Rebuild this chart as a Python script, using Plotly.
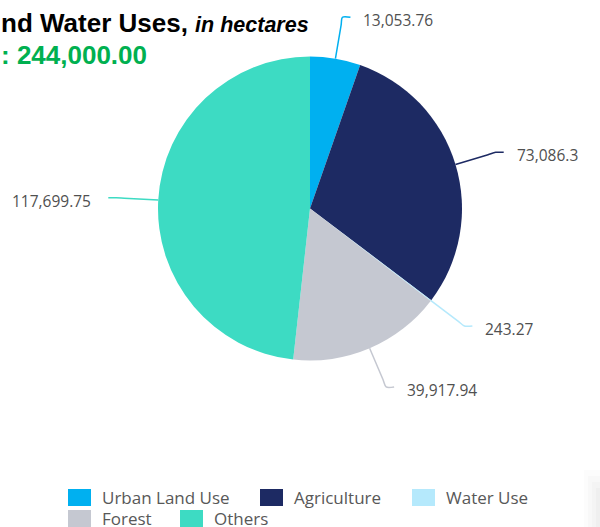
import math
import plotly.graph_objects as go

# ---- data ----
categories = ["Urban Land Use", "Agriculture", "Water Use", "Forest", "Others"]
values = [13053.76, 73086.3, 243.27, 39917.94, 117699.75]
colors = ["#00b0f0", "#1d2a63", "#b5e9fc", "#c5c8d1", "#3ddbc3"]
title_line1 = "nd Water Uses,"
title_unit = "in hectares"
total_text = ": 244,000.00"

# ---- layout geometry (pixels) ----
W, H = 600, 527
CX, CY, R = 310, 208.5, 152
EXT = 42      # radial extension of leader lines
HSEG = 8      # horizontal leg of leader lines
# legend slots (layout only): (swatch left x, row centre y)
LEGEND_SLOTS = [(68, 497.5), (260, 497.5), (412, 497.5), (68, 518.5), (180, 518.5)]
SW_W, SW_H, TXT_GAP = 23, 17, 32

fig = go.Figure()

fig.add_trace(go.Pie(
    labels=categories, values=values, sort=False, direction="clockwise", rotation=0,
    marker=dict(colors=colors, line=dict(width=0)),
    textinfo="none", hoverinfo="label+value+percent", showlegend=False,
    domain=dict(x=[(CX - R) / W, (CX + R) / W], y=[1 - (CY + R) / H, 1 - (CY - R) / H]),
))

# leader lines + labels computed from the data angles
total = sum(values)
cum = 0.0
annotations = []
for cat, v, c in zip(categories, values, colors):
    mid = (cum + v / 2) / total * 2 * math.pi
    cum += v
    s, co = math.sin(mid), math.cos(mid)
    side = 1 if s >= 0 else -1
    p1 = (CX + R * s, CY - R * co)
    pa = (CX + (R + EXT - 8) * s, CY - (R + EXT - 8) * co)
    p2 = (CX + (R + EXT) * s, CY - (R + EXT) * co)
    p3 = (p2[0] + side * HSEG, p2[1])
    fig.add_trace(go.Scatter(
        x=[p1[0], pa[0], p2[0], p3[0]], y=[p1[1], pa[1], p2[1], p3[1]],
        mode="lines", line=dict(color=c, width=1.5, shape="spline", smoothing=0.8),
        hoverinfo="skip", showlegend=False, xaxis="x", yaxis="y",
    ))
    annotations.append(dict(
        x=p3[0] + side * (11 if side > 0 else 15), y=p3[1] + 3, xref="x", yref="y",
        text=f"{v:,}", showarrow=False, xanchor="left" if side > 0 else "right",
        yanchor="middle", font=dict(family="Open Sans", size=15.5, color="#505050"),
    ))

# legend (swatches + names)
shapes = []
for cat, c, (lx, ly) in zip(categories, colors, LEGEND_SLOTS):
    shapes.append(dict(type="rect", xref="x", yref="y", x0=lx, x1=lx + SW_W,
                       y0=ly - SW_H / 2, y1=ly + SW_H / 2, fillcolor=c, line=dict(width=0)))
    annotations.append(dict(
        x=lx + TXT_GAP, y=ly, xref="x", yref="y", xanchor="left", yanchor="middle",
        showarrow=False, text=cat,
        font=dict(family="Open Sans", size=17, color="#585858"),
    ))

annotations.append(dict(
    x=-0.002, y=1 - 23 / H, xref="paper", yref="paper", xanchor="left", yanchor="middle",
    showarrow=False,
    text=f"<b>{title_line1}</b> <span style='font-size:21.5px'><b><i>{title_unit}</i></b></span>",
    font=dict(family="Liberation Sans, Arial", size=26, color="#000000"),
))
annotations.append(dict(
    x=-0.002, y=1 - 55 / H, xref="paper", yref="paper", xanchor="left", yanchor="middle",
    showarrow=False, text=f"<b>{total_text}</b>",
    font=dict(family="Liberation Sans, Arial", size=26, color="#00b050"),
))

for i, op in enumerate([0.012, 0.014, 0.016, 0.02]):
    shapes.append(dict(type="rect", xref="x", yref="y", x0=584 + 4 * i, x1=600,
                       y0=470 + 6 * i, y1=527, fillcolor="#000000", opacity=op,
                       line=dict(width=0), layer="below"))

fig.update_layout(
    width=W, height=H,
    margin=dict(l=0, r=0, t=0, b=0, autoexpand=False),
    paper_bgcolor="white", plot_bgcolor="rgba(0,0,0,0)",
    xaxis=dict(range=[0, W], visible=False, fixedrange=True, domain=[0, 1]),
    yaxis=dict(range=[H, 0], visible=False, fixedrange=True, domain=[0, 1]),
    showlegend=False,
    annotations=annotations, shapes=shapes,
)

fig.write_html("out.html", config={"displayModeBar": False},
               post_script="document.body.style.margin='0';")
